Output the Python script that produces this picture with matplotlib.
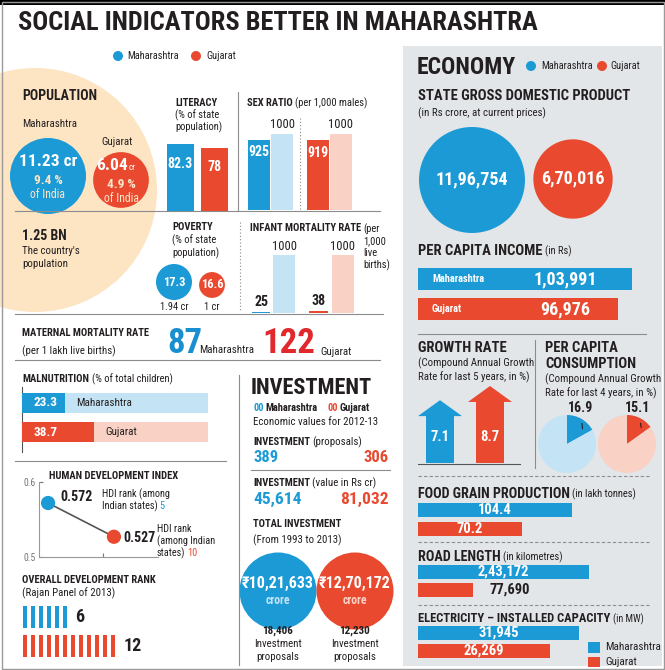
import matplotlib
matplotlib.use("Agg")
import matplotlib.pyplot as plt
from matplotlib.patches import Circle, Rectangle
import numpy as np

plt.rcParams["font.family"] = ["Roboto Condensed", "Liberation Sans Narrow", "DejaVu Sans"]

# data
states = ["Maharashtra", "Gujarat"]
population_cr = [11.23, 6.04]
population_share = [9.4, 4.9]
india_population = "1.25 BN"
literacy = [82.3, 78]
sex_ratio = [925, 919]
parity = 1000
poverty = [17.3, 16.6]
poor_people_cr = [1.94, 1]
infant_mortality = [25, 38]
maternal_mortality = [87, 122]
malnutrition = [23.3, 38.7]
hdi = [0.572, 0.527]
hdi_rank = [5, 10]
dev_rank = [6, 12]
inv_proposals = [389, 306]
inv_value = [45614, 81032]
total_inv = [1021633, 1270172]
total_inv_proposals = [18406, 12230]
gsdp = [1196754, 670016]
per_capita_income = [103991, 96976]
growth_rate = [7.1, 8.7]
consumption_growth = [16.9, 15.1]
food_grain = [104.4, 70.2]
road_length = [243172, 77690]
electricity = [31945, 26269]

BLUE = "#1b9ad6"
RED = "#e8492f"
LBLUE = "#c4e3f4"
LRED = "#f9d2c5"
PEACH = "#fde4c2"
PANEL = "#e3e6e9"
INK = "#231f20"
GREY = "#8c8c8c"
dark = [BLUE, RED]
light = [LBLUE, LRED]


def inr(n):
    # indian digit grouping: 11,96,754
    s = str(int(n))
    if len(s) <= 3:
        return s
    head, tail = s[:-3], s[-3:]
    parts = []
    while len(head) > 2:
        parts.insert(0, head[-2:])
        head = head[:-2]
    if head:
        parts.insert(0, head)
    return ",".join(parts + [tail])


W, H = 665, 670
fig = plt.figure(figsize=(W / 100, H / 100), dpi=100)
bg = fig.add_axes([0, 0, 1, 1])
bg.set_xlim(0, W)
bg.set_ylim(H, 0)
bg.set_autoscale_on(False)
bg.axis("off")
renderer = fig.canvas.get_renderer()


def sub(x0, y0, x1, y1, off=True):
    ax = fig.add_axes([x0 / W, 1 - y1 / H, (x1 - x0) / W, (y1 - y0) / H])
    if off:
        ax.axis("off")
    return ax


def t(x, y, s, size=7.8, bold=False, color=INK, ha="left", va="center", ax=None):
    if bold is True:
        bold = "bold"
    return (ax or bg).text(x, y, s, fontsize=size, fontweight=bold or "normal",
                           color=color, ha=ha, va=va)


def run(x, y, parts, gap=2.5):
    # several styles on one line, each piece starts where the last one ended
    for s, size, bold, color in parts:
        a = t(x, y, s, size, bold, color)
        x = a.get_window_extent(renderer).x1 + gap
    return x


def head(x, y, bold_s, rest, size=7.6, rest_size=7.6):
    return run(x, y, [(bold_s, size, True, INK), (rest, rest_size, False, INK)])


def hline(y, x0, x1, ls="-", color=GREY, lw=0.8):
    bg.plot([x0, x1], [y, y], ls=ls, color=color, lw=lw)


def vline(x, y0, y1, ls="-", color=GREY, lw=0.8):
    bg.plot([x, x], [y0, y1], ls=ls, color=color, lw=lw)


# background pieces
bg.add_patch(Rectangle((0, 0), W, 5, color="black", lw=0))
bg.add_patch(Rectangle((403, 46), 259, 620, color=PANEL, lw=0))
bg.add_patch(Circle((35, 190), 122, color=PEACH, lw=0))
bg.add_patch(Rectangle((1.5, 1.5), W - 3, H - 3, fill=False, ec="#9a9a9a", lw=1))

t(18, 23, "SOCIAL INDICATORS BETTER IN MAHARASHTRA", 19, 900)
for cx, c, lx, name in [(118, BLUE, 127, states[0]), (196, RED, 206, states[1])]:
    bg.add_patch(Circle((cx, 56), 5, color=c, lw=0))
    t(lx, 56, name, 7.5)

# population
t(22, 96, "POPULATION", 10, True)
t(22, 124, states[0], 7.8)
t(117, 142, states[1], 7.8, ha="center")
r_pop = 38 * np.sqrt(np.array(population_cr) / max(population_cr))
for i, (cx, cy) in enumerate([(48, 176), (121, 180)]):
    bg.add_patch(Circle((cx, cy), r_pop[i], color=dark[i], lw=0))
    t(cx, cy + 5, f"{population_share[i]} %", 9.5, True, "#fde6c8", ha="center")
    t(cx, cy + 18, "of India", 8.5, False, "#fde6c8", ha="center")
t(48, 161, f"{population_cr[0]} cr", 12.5, True, "white", ha="center")
t(128, 165, f"{population_cr[1]:.2f}", 12.5, True, "white", ha="right")
t(129, 167, "cr", 6.5, False, "white")
t(22, 236, india_population, 10, True)
t(22, 251, "The country's", 7.8)
t(22, 264, "population", 7.8)

# literacy
t(175, 103, "LITERACY", 7.6, True)
t(175, 115, "(% of state", 7.6)
t(175, 127, "population)", 7.6)
ax = sub(163.5, 129.6, 231.5, 211)
ax.bar([0, 1], literacy, width=0.8, color=dark)
for i, v in enumerate(literacy):
    t(i, v * 0.7, f"{v:g}", 10, True, "white", ha="center", ax=ax)
ax.set_xlim(-0.5, 1.5)
ax.set_ylim(0, 100)

# sex ratio
head(247, 103, "SEX RATIO", "(per 1,000 males)")
pos = [0, 1, 2.55, 3.55]
ax = sub(247.5, 134, 352.2, 210)
ax.bar(pos, [sex_ratio[0], parity, sex_ratio[1], parity], width=0.95,
       color=[BLUE, LBLUE, RED, LRED])
for i, v in enumerate(sex_ratio):
    t(pos[2 * i], v * 0.82, str(v), 10, True, "white", ha="center", ax=ax)
    t(pos[2 * i + 1], parity + 40, str(parity), 9, False, INK, ha="center", va="bottom", ax=ax)
ax.set_xlim(-0.5, 4.05)
ax.set_ylim(0, 1000)
vline(300, 118, 210, ls=(0, (1, 2)))
vline(238, 92, 211)
hline(211, 15, 380)

# poverty
t(172, 227, "POVERTY", 7.6, True)
t(172, 240, "(% of state", 7.6)
t(172, 253, "population)", 7.6)
r_pov = 18 * np.sqrt(np.array(poor_people_cr) / max(poor_people_cr))
for i, (cx, cy) in enumerate([(174, 282), (212, 285)]):
    bg.add_patch(Circle((cx, cy), r_pov[i], color=dark[i], lw=0))
    t(cx, cy, f"{poverty[i]}", 9, True, "white", ha="center")
    t(cx, 307, f"{poor_people_cr[i]:g} cr", 7.5, ha="center")

# infant mortality
a = t(250, 228, "INFANT MORTALITY RATE", 7.6, True)
xr = a.get_window_extent(renderer).x1 + 2.5
t(xr, 229, "(per", 7.6)
for k, s in enumerate(["1,000", "live", "births)"]):
    t(xr, 241 + 12 * k, s, 7.6)
pos = [0, 1, 2.5, 3.55]
ax = sub(249.5, 255, 354.2, 313)
ax.bar(pos, [infant_mortality[0], parity, infant_mortality[1], parity],
       width=[0.8, 0.95, 0.8, 0.95], color=[BLUE, LBLUE, RED, LRED])
for i, v in enumerate(infant_mortality):
    t(pos[2 * i], v + 40, str(v), 10, True, INK, ha="center", va="bottom", ax=ax)
    t(pos[2 * i + 1], parity + 40, str(parity), 9, False, INK, ha="center", va="bottom", ax=ax)
ax.set_xlim(-0.5, 4.05)
ax.set_ylim(0, 1000)
vline(240, 222, 312, ls=(0, (1, 2)))
hline(313.5, 15, 383)

# maternal mortality
t(22, 333, "MATERNAL MORTALITY RATE", 7.6, True)
t(22, 351, "(per 1 lakh live births)", 7.8)
t(167, 353, str(maternal_mortality[0]), 25, 900, "#1a8fd0", va="baseline")
t(199, 350, states[0], 7.8)
t(262, 353, str(maternal_mortality[1]), 25, 900, "#e1282c", va="baseline")
t(320, 352, states[1], 7.8)
hline(359.5, 15, 380)

# malnutrition
head(22, 379, "MALNUTRITION", "(% of total children)")
ax = sub(22, 388.5, 208, 446.5)
ax.barh([0, 1], [100, 100], height=0.69, color=light)
ax.barh([0, 1], malnutrition, height=0.69, color=dark)
for i, v in enumerate(malnutrition):
    t(6, i, f"{v}", 9.5, True, "white", ax=ax)
    t(v + 6, i, states[i], 8, ax=ax)
ax.set_xlim(0, 100)
ax.set_ylim(1.5, -0.5)
vline(22, 387, 452, color="#555555")
hline(460.5, 15, 226)

# human development index
t(49, 476, "HUMAN DEVELOPMENT INDEX", 7.6, True)
ax = sub(39, 482, 158, 557, off=False)
ax.plot([0, 1], hdi, color="#555555", lw=1.2, zorder=2)
ax.scatter([0, 1], hdi, s=105, c=dark, zorder=3, lw=0)
ax.set_xlim(-0.138, 1.67)
ax.set_ylim(0.5, 0.6)
ax.set_yticks([0.5, 0.6], ["0.5", "0.6"])
ax.set_xticks([0.83], [""])
ax.tick_params(direction="in", length=3, labelsize=7, colors="#777777", pad=2)
for s in ["top", "right"]:
    ax.spines[s].set_visible(False)
for s in ["left", "bottom"]:
    ax.spines[s].set_color("#999999")
    ax.spines[s].set_linewidth(0.8)
ax.patch.set_alpha(0)
t(60, 497, f"{hdi[0]}", 10, True)
t(102, 494, "HDI rank (among", 7.4)
run(102, 506, [("Indian states)", 7.4, False, INK), (str(hdi_rank[0]), 7.4, False, BLUE)], gap=1.5)
t(123, 538, f"{hdi[1]}", 10, True)
t(157, 529, "HDI rank", 7.4)
t(157, 541, "(among Indian", 7.4)
run(157, 553, [("states)", 7.4, False, INK), (str(hdi_rank[1]), 7.4, False, RED)], gap=1.5)

# overall development rank
t(22, 580, "OVERALL DEVELOPMENT RANK", 7.6, True)
t(22, 593, "(Rajan Panel of 2013)", 7.8)
ax = sub(21, 602, 141, 661)
for row, n in enumerate(dev_rank):
    ax.bar(np.arange(n), 0.75, bottom=row - 0.375, width=0.5, color=dark[row])
    t(n + 0.3, row, str(n), 13, True, ax=ax)
ax.set_xlim(-0.5, 14.5)
ax.set_ylim(1.5, -0.5)

# investment
vline(238.5, 375, 665)
t(251, 388, "INVESTMENT", 16, 900)
run(253, 408, [("00", 7.5, True, BLUE), (states[0], 7.5, True, INK)], gap=1.5)
run(327, 408, [("00", 7.5, True, RED), (states[1], 7.5, True, INK)], gap=1.5)
t(253, 422, "Economic values for 2012-13", 7.8)
head(253, 442, "INVESTMENT", "(proposals)", 7.6, 7.8)
t(253, 458, inr(inv_proposals[0]), 12, True, BLUE)
t(389, 458, inr(inv_proposals[1]), 12, True, RED, ha="right")
hline(470, 251, 390)
head(253, 483, "INVESTMENT", "(value in Rs cr)", 7.6, 7.8)
t(253, 499, inr(inv_value[0]), 12.5, True, BLUE)
t(389, 499, inr(inv_value[1]), 12.5, True, RED, ha="right")
t(253, 524, "TOTAL INVESTMENT", 7.6, True)
t(253, 540, "(From 1993 to 2013)", 7.8)
for i, cx in enumerate([278, 355]):
    bg.add_patch(Circle((cx, 591), 38.5, color=dark[i], lw=0))
    t(cx, 583, "\u20b9" + inr(total_inv[i]), 11.5, True, "white", ha="center")
    t(cx, 601, "crore", 8.5, True, light[i], ha="center")
    t(cx, 631, inr(total_inv_proposals[i]), 8, True, ha="center")
    t(cx, 644, "Investment", 7.8, ha="center")
    t(cx, 657, "proposals", 7.8, ha="center")

# economy panel
t(417, 67, "ECONOMY", 17, 900)
for cx, c, lx, name in [(531, BLUE, 541, states[0]), (602, RED, 610, states[1])]:
    bg.add_patch(Circle((cx, 66), 5, color=c, lw=0))
    t(lx, 66, name, 7.5)

t(418, 96, "STATE GROSS DOMESTIC PRODUCT", 10.5, True)
t(418, 113, "(in Rs crore, at current prices)", 7.8)
r_gsdp = 53 * np.sqrt(np.array(gsdp) / max(gsdp))
for i, (cx, cy) in enumerate([(472, 180), (573, 179)]):
    bg.add_patch(Circle((cx, cy), r_gsdp[i], color=dark[i], lw=0))
    t(cx, cy - 1, inr(gsdp[i]), 13, True, "white", ha="center")


def econ_bars(x0, x1, yc, h, values):
    # x1 is where the longest bar ends, yc are the bar centres
    step = yc[1] - yc[0]
    ax = sub(x0, yc[0] - step / 2, x1, yc[1] + step / 2)
    ax.barh([0, 1], values, height=h / step, color=dark)
    ax.set_xlim(0, max(values))
    ax.set_ylim(1.5, -0.5)
    return ax


head(418, 251, "PER CAPITA INCOME", "(in Rs)", 10.5)
ax = econ_bars(418, 632, [279, 309], 22, per_capita_income)
for i, v in enumerate(per_capita_income):
    t(0.065 * max(per_capita_income), i, states[i], 7.5, True, "white", ax=ax)
    t(0.69 * max(per_capita_income), i, inr(v), 13, True, "white", ha="center", ax=ax)

hline(334, 418, 646)
vline(535, 340, 468)

t(418, 348, "GROWTH RATE", 10.5, True)
t(418, 363, "(Compound Annual Growth", 7.8)
t(418, 377, "Rate for last 5 years, in %)", 7.8)
ax = sub(410, 380, 520, 463)
for i, v in enumerate(growth_rate):
    ax.arrow(i, 0, 0, v, width=0.56, head_width=0.88, head_length=1.8,
             length_includes_head=True, color=dark[i], lw=0)
    t(i, 2.9, f"{v}", 10.5, True, "white", ha="center", ax=ax)
ax.set_xlim(-0.6, 1.6)
ax.set_ylim(0, 9.38)
hline(464, 418, 520, color="#555555")

t(545, 348, "PER CAPITA", 10.5, True)
t(545, 364, "CONSUMPTION", 10.5, True)
t(545, 379, "(Compound Annual Growth", 7.8)
t(545, 393, "Rate for last 4 years, in %)", 7.8)
for i, (v, cx) in enumerate(zip(consumption_growth, [567, 627])):
    r, pad = 29, 1.35
    ax = sub(cx - r * pad, 444 - r * pad, cx + r * pad, 444 + r * pad)
    ax.pie([v, 100 - v], colors=[dark[i], light[i]], startangle=90,
           counterclock=False, radius=1, wedgeprops=dict(lw=0))
    ax.set_xlim(-pad, pad)
    ax.set_ylim(-pad, pad)
    ang = np.deg2rad(90 - 3.6 * v * 0.75)
    ax.annotate(f"{v}", xy=(0.75 * np.cos(ang), 0.75 * np.sin(ang)),
                xytext=(0.45 - 0.07 * i, 1.24), ha="center", va="center",
                fontsize=10, fontweight="bold", color=INK, annotation_clip=False,
                arrowprops=dict(arrowstyle="-", color=INK, lw=0.8, shrinkA=4, shrinkB=0))

dash = (0, (3, 2))
hline(476, 418, 650, ls=dash)
head(418, 494, "FOOD GRAIN PRODUCTION", "(in lakh tonnes)", 10.2)
ax = econ_bars(418, 572, [510, 529], 14, food_grain)
for i, v in enumerate(food_grain):
    t(v / 2, i, f"{v}", 10.5, True, "white", ha="center", ax=ax)

hline(542, 418, 650, ls=dash)
head(418, 557, "ROAD LENGTH", "(in kilometres)", 10.2)
ax = econ_bars(418, 589, [571.5, 589.5], 14, road_length)
t(road_length[0] / 2, 0, inr(road_length[0]), 10.5, True, "white", ha="center", ax=ax)
t(road_length[1] + 0.1 * max(road_length), 1, inr(road_length[1]), 10.5, True, ax=ax)

hline(605, 418, 650, ls=dash)
head(418, 619, "ELECTRICITY \u2013 INSTALLED CAPACITY", "(in MW)", 9, 7.2)
ax = econ_bars(418, 579, [633, 650.5], 14, electricity)
for i, v in enumerate(electricity):
    t(v / 2, i, inr(v), 10.5, True, "white", ha="center", ax=ax)

bg.add_patch(Rectangle((588, 642), 12, 11, color=BLUE, lw=0))
bg.add_patch(Rectangle((588, 657), 12, 10, color=RED, lw=0))
t(605, 647, states[0], 8)
t(605, 662, states[1], 8)

fig.savefig("out.png", dpi=100)
